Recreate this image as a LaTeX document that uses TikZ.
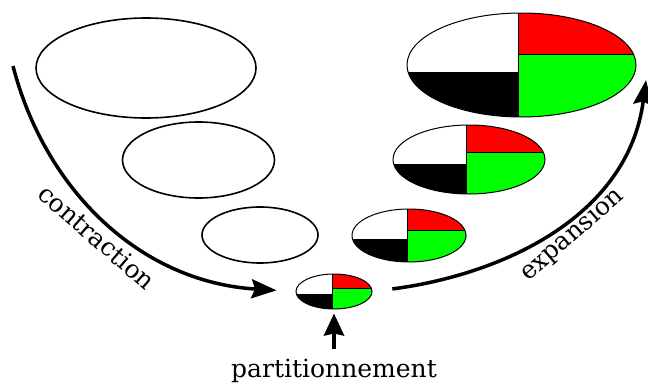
\documentclass[tikz,border=0pt]{standalone}
\usepackage{fontspec}
\setmainfont{DejaVu Serif}
\usetikzlibrary{shapes.geometric,arrows.meta,calc}
\definecolor{pgreen}{RGB}{0,255,0}
\definecolor{pred}{RGB}{255,0,0}
\begin{document}
\begin{tikzpicture}[x=1pt,y=-1pt,
  plain/.style={ellipse,draw,line width=1.6pt,inner sep=0pt,fill=white},
  pie/.style={ellipse,draw,line width=1pt,inner sep=0pt,fill=white,
    path picture={
      \coordinate (pp-sw) at (path picture bounding box.south west);
      \coordinate (pp-ne) at (path picture bounding box.north east);
      \coordinate (pp-v) at ($(pp-sw)!0.485!(pp-ne)$);
      \coordinate (pp-r) at ($(pp-sw)!0.6!(pp-ne)$);
      \coordinate (pp-w) at ($(pp-sw)!0.43!(pp-ne)$);
      \fill[pred] (pp-v |- pp-ne) rectangle (pp-ne |- pp-r);
      \fill[pgreen] (pp-v |- pp-r) rectangle (pp-ne |- pp-sw);
      \fill[black] (pp-sw) rectangle (pp-v |- pp-w);
      \draw[line width=1pt] (pp-v |- pp-ne) -- (pp-v |- pp-sw);
      \draw[line width=1pt] (pp-v |- pp-r) -- (pp-ne |- pp-r);
    }},
  bigarrow/.style={line width=3.5pt,-{Stealth[length=25pt,width=19pt,inset=3.5pt]}},
  uparrow/.style={line width=4pt,-{Stealth[length=22pt,width=20pt,inset=2pt]}},
  lbl/.style={font=\fontsize{25}{28}\selectfont,inner sep=0pt}]
\useasboundingbox (0,0) rectangle (648,383);
% left ellipses
\node[plain,minimum width=220pt,minimum height=100pt] (L1) at (146,68) {};
\node[plain,minimum width=152pt,minimum height=76pt] (L2) at (198.5,160) {};
\node[plain,minimum width=116pt,minimum height=56pt] (L3) at (260,235) {};
% partitioned ellipses
\node[pie,minimum width=229pt,minimum height=104pt] (R1) at (521.5,65) {};
\node[pie,minimum width=152pt,minimum height=69pt] (R2) at (469,159.5) {};
\node[pie,minimum width=114pt,minimum height=53pt] (R3) at (409,235.5) {};
\node[pie,minimum width=76pt,minimum height=35pt] (R0) at (334,291.5) {};
% arrows
\coordinate (cs) at (13,66);
\coordinate (ce) at (646,80);
\coordinate (pb) at (334,349);
\draw[bigarrow,shorten >=19pt] (cs) .. controls (45,190) and (140,282) .. (R0.west);
\draw[bigarrow,shorten <=20pt] (R0.east) .. controls (500,275) and (628,218) .. (ce);
\draw[uparrow,shorten >=4pt] (pb) -- (R0.south);
% labels
\node[lbl,rotate=-41] (lc) at (97,237) {contraction};
\node[lbl,rotate=41] (le) at (572,235) {expansion};
\node[lbl] (lp) at (334,371) {partitionnement};
\end{tikzpicture}
\end{document}
